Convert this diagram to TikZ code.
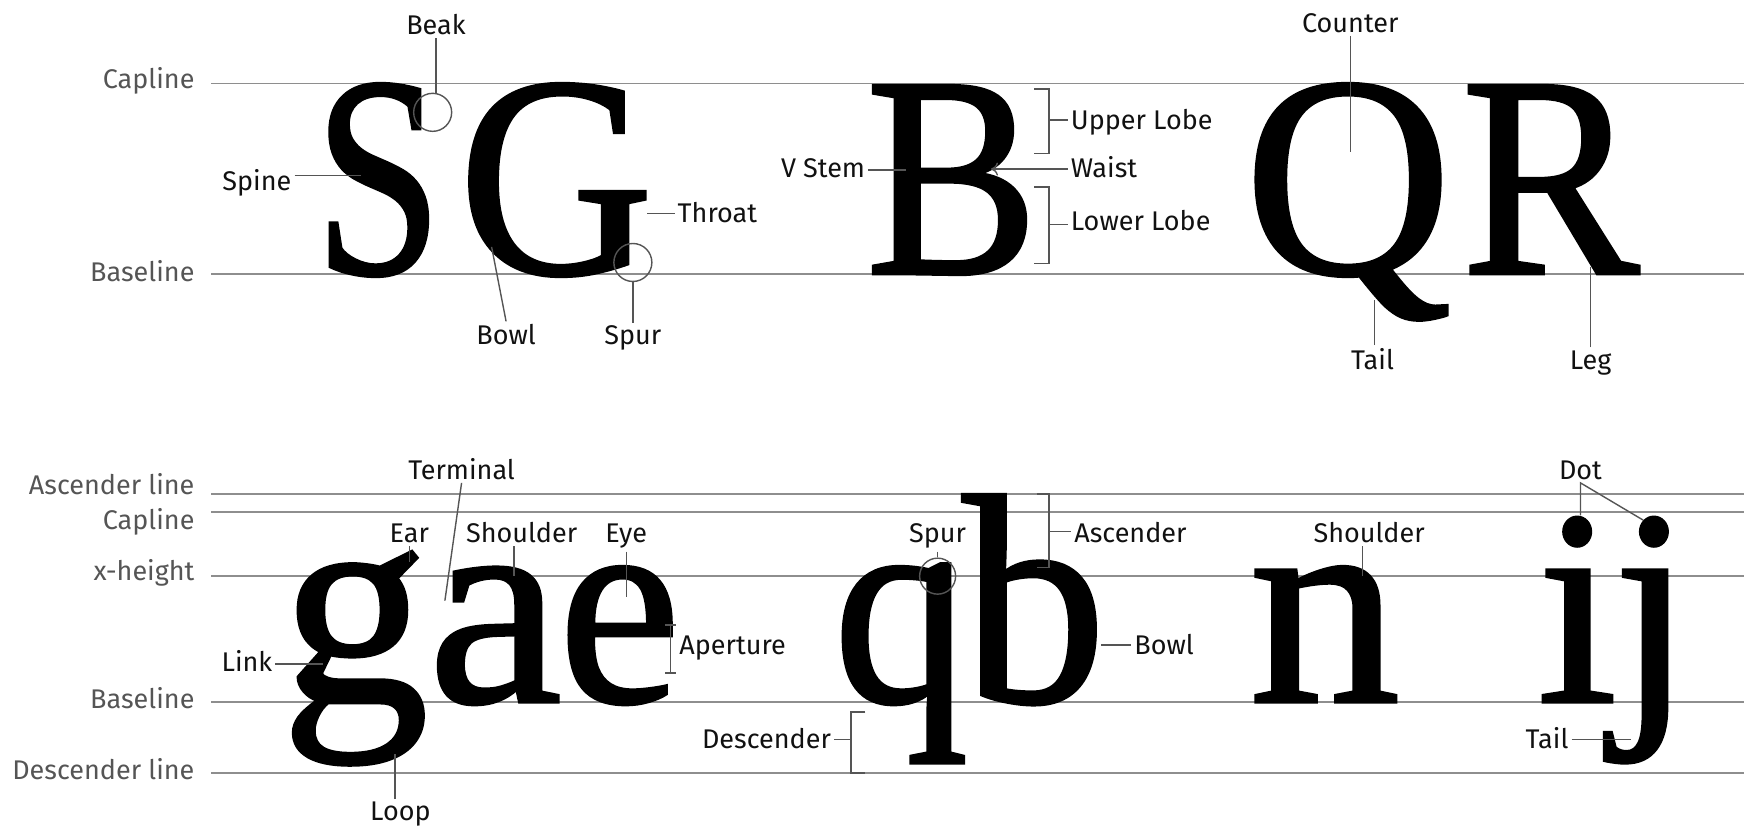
\documentclass[tikz,border=0pt]{standalone}
\usepackage{fontspec}
\usetikzlibrary{arrows.meta,shapes.geometric}
\setmainfont{Fira Sans}
\newfontfamily\glyphfont[FakeBold=1.2]{Liberation Serif}
\definecolor{guidec}{HTML}{8E8E8E}
\definecolor{leadc}{HTML}{555555}
\definecolor{axisc}{HTML}{555555}
\definecolor{partc}{HTML}{111111}
\newcommand{\gl}[3]{\scalebox{#1}[#2]{#3}}
\begin{document}
\begin{tikzpicture}[x=1.1122pt,y=-1.1122pt,
  guide/.style={draw=guidec,line width=1.8pt},
  leader/.style={draw=leadc,line width=1.4pt},
  axislabel/.style={text=axisc,font=\fontsize{27}{27}\selectfont,anchor=base east,inner sep=0pt},
  partlabel/.style={text=partc,font=\fontsize{27}{27}\selectfont,anchor=base,inner sep=3pt},
  glyph/.style={inner sep=0pt,anchor=base,font=\glyphfont\fontsize{287}{287}\selectfont},
  ring/.style={draw=leadc,line width=1.4pt,circle,inner sep=0pt,minimum size=#1},
  dotshape/.style={fill=black,ellipse,inner sep=0pt,minimum width=27*1.1122pt,minimum height=29*1.1122pt},
]
\useasboundingbox (0,0) rectangle (1568,744);
% ---------- top guides ----------
\node[axislabel] (capA) at (175,80) {Capline};
\node[axislabel] (baseA) at (175,253) {Baseline};
\coordinate (capAend) at (1568,75);
\coordinate (baseAend) at (1568,246);
\draw[guide] (capA.east |- capAend) ++(15,0) -- (capAend);
\draw[guide] (baseA.east |- baseAend) ++(15,0) -- (baseAend);
% ---------- top glyphs ----------
\node[glyph] (S) at (340,246) {\gl{0.80}{1}{S}};
\node[glyph] (G) at (500,246) {\gl{0.94}{1}{G}};
\node[glyph] (B) at (856,246) {\gl{0.90}{1}{B}};
\node[glyph] (Q) at (1212,246) {\gl{1.0}{1}{Q}};
\node[glyph] (R) at (1394,246) {\gl{0.93}{1}{R}};
% ---------- top labels ----------
\node[partlabel] (beak) at (392,31) {Beak};
\node[ring=38] (beakring) at (389,101) {};
\draw[leader] (beak.south) -- (beak.south |- beakring.north);
\node[partlabel] (spine) at (231,171) {Spine};
\coordinate (spinept) at (325,158);
\draw[leader] (spine.east |- spinept) -- (spinept);
\node[partlabel] (throat) at (645,200) {Throat};
\coordinate (throatpt) at (582,192);
\draw[leader] (throatpt) -- (throat.west |- throatpt);
\node[partlabel] (bowlA) at (455,310) {Bowl};
\coordinate (bowlApt) at (442,222);
\draw[leader] (bowlA.north) -- (bowlApt);
\node[partlabel] (spurA) at (569,310) {Spur};
\node[ring=38] (spurring) at (569,236) {};
\draw[leader] (spurA.north) -- (spurring.south);
\node[partlabel] (vstem) at (740,160) {V Stem};
\coordinate (vstempt) at (815,153);
\draw[leader] (vstem.east |- vstempt) -- (vstempt);
\node[partlabel,anchor=base west] (ulobe) at (960,116) {Upper Lobe};
\coordinate (ulT) at (930,80);
\coordinate (ulB) at (930,138);
\coordinate (ulM) at (943,108);
\draw[leader] (ulT) -- ++(13,0) -- ([xshift=13*1.1122pt]ulB) -- (ulB);
\draw[leader] (ulM) -- (ulobe.west |- ulM);
\node[partlabel,anchor=base west] (waist) at (960,160) {Waist};
\coordinate (waistpt) at (891,152);
\draw[leader,-{To[length=7pt,width=13pt]}] (waist.west |- waistpt) -- (waistpt);
\node[partlabel,anchor=base west] (llobe) at (960,207) {Lower Lobe};
\coordinate (llT) at (930,168);
\coordinate (llB) at (930,237);
\coordinate (llM) at (943,202);
\draw[leader] (llT) -- ++(13,0) -- ([xshift=13*1.1122pt]llB) -- (llB);
\draw[leader] (llM) -- (llobe.west |- llM);
\node[partlabel] (counter) at (1214,29) {Counter};
\coordinate (counterpt) at (1214,137);
\draw[leader] (counter.south) -- (counterpt);
\node[partlabel] (tailA) at (1234,332) {Tail};
\coordinate (tailApt) at (1236,270);
\draw[leader] (tailA.north -| tailApt) -- (tailApt);
\node[partlabel] (leg) at (1430,332) {Leg};
\coordinate (legpt) at (1430,240);
\draw[leader] (leg.north) -- (legpt);
% ---------- bottom guides ----------
\node[axislabel] (ascB) at (175,445) {Ascender line};
\node[axislabel] (capB) at (175,476) {Capline};
\node[axislabel] (xhB) at (175,522) {x-height};
\node[axislabel] (baseB) at (175,637) {Baseline};
\node[axislabel] (descB) at (175,701) {Descender line};
\coordinate (ascBend) at (1568,444);
\coordinate (capBend) at (1568,460);
\coordinate (xhBend) at (1568,518);
\coordinate (baseBend) at (1568,631);
\coordinate (descBend) at (1568,695);
\draw[guide] (190,444) -- (ascBend);
\draw[guide] (190,460) -- (capBend);
\draw[guide] (190,518) -- (xhBend);
\draw[guide] (190,631) -- (baseBend);
\draw[guide] (190,695) -- (descBend);
% ---------- bottom glyphs ----------
\node[glyph] (g) at (319,631) {\gl{1.03}{1.02}{g}};
\node[glyph] (a) at (445,631) {\gl{1.05}{1}{a}};
\node[glyph] (e) at (557,631) {\gl{0.96}{1}{e}};
\node[glyph] (q) at (810,631) {\gl{0.94}{1}{q}};
\node[glyph] (b) at (930,631) {\gl{1.0}{1.04}{b}};
\node[glyph] (n) at (1191,631) {\gl{1.05}{1}{n}};
\begin{scope}
\clip (1350,496) rectangle (1568,744);
\node[glyph] (i) at (1418,631) {i};
\node[glyph] (j) at (1486,631) {j};
\end{scope}
\node[dotshape] (idot) at (1418,478) {};
\node[dotshape] (jdot) at (1487,478) {};
% ---------- bottom labels ----------
\node[partlabel] (terminal) at (415,431) {Terminal};
\coordinate (terminalpt) at (400,540);
\draw[leader] (terminal.south) -- (terminalpt);
\node[partlabel] (ear) at (368,488) {Ear};
\coordinate (earpt) at (368,505);
\draw[leader] (ear.south) -- (earpt);
\node[partlabel] (shoulderA) at (469,488) {Shoulder};
\coordinate (shApt) at (462,518);
\draw[leader] (shoulderA.south -| shApt) -- (shApt);
\node[partlabel] (eye) at (563,488) {Eye};
\coordinate (eyept) at (563,537);
\draw[leader] (eye.south) -- (eyept);
\node[partlabel,anchor=base west] (aperture) at (608,588) {Aperture};
\coordinate (apT) at (603,562);
\coordinate (apB) at (603,605);
\draw[leader] (apT) -- (apB);
\draw[leader] ([xshift=-5*1.1122pt]apT) -- ([xshift=5*1.1122pt]apT);
\draw[leader] ([xshift=-5*1.1122pt]apB) -- ([xshift=5*1.1122pt]apB);
\node[partlabel] (link) at (222,604) {Link};
\coordinate (linkpt) at (290,597);
\draw[leader] (link.east |- linkpt) -- (linkpt);
\node[partlabel] (loop) at (360,738) {Loop};
\coordinate (looppt) at (355,678);
\draw[leader] (loop.north -| looppt) -- (looppt);
\node[partlabel] (spurB) at (843,488) {Spur};
\node[ring=36] (spurBring) at (843,518) {};
\draw[leader] (spurB.south) -- (spurBring.north);
\node[partlabel,anchor=base west] (ascender) at (963,488) {Ascender};
\coordinate (asT) at (932,444);
\coordinate (asB) at (932,510);
\coordinate (asM) at (943,478);
\draw[leader] (asT) -- ++(11,0) -- ([xshift=11*1.1122pt]asB) -- (asB);
\draw[leader] (asM) -- (ascender.west |- asM);
\node[partlabel,anchor=base west] (bowlB) at (1017,588) {Bowl};
\coordinate (bowlBpt) at (990,580);
\draw[leader] (bowlBpt) -- (bowlB.west |- bowlBpt);
\node[partlabel,anchor=base east] (descender) at (750,673) {Descender};
\coordinate (dsT) at (778,640);
\coordinate (dsB) at (778,695);
\coordinate (dsM) at (765,665);
\draw[leader] (dsT) -- ++(-13,0) -- ([xshift=-13*1.1122pt]dsB) -- (dsB);
\draw[leader] (dsM) -- (descender.east |- dsM);
\node[partlabel] (shoulderB) at (1231,488) {Shoulder};
\coordinate (shBpt) at (1225,518);
\draw[leader] (shoulderB.south -| shBpt) -- (shBpt);
\node[partlabel] (dot) at (1421,431) {Dot};
\draw[leader] (idot.north -| dot.south) -- (dot.south) -- (jdot.north west);
\node[partlabel,anchor=base east] (tailB) at (1413,673) {Tail};
\coordinate (tailBpt) at (1466,665);
\draw[leader] (tailB.east |- tailBpt) -- (tailBpt);
\end{tikzpicture}
\end{document}
